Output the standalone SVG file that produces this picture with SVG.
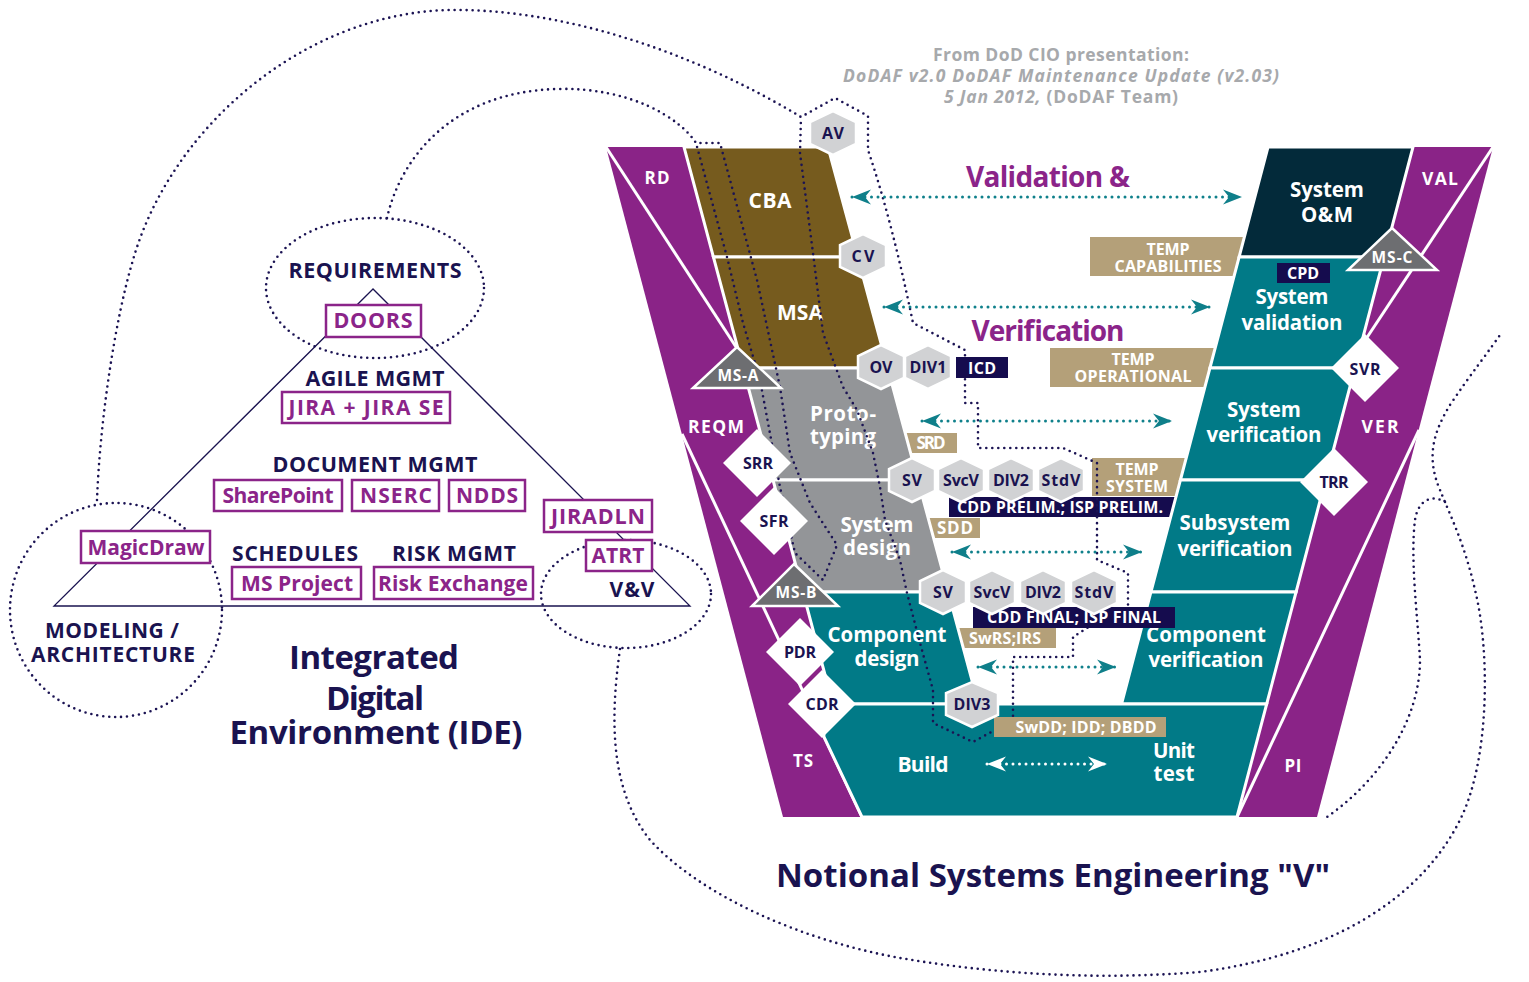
<svg xmlns="http://www.w3.org/2000/svg" width="1529" height="982" viewBox="0 0 1529 982">
<defs>
<style>
.pur{fill:#8a2387}
.wl{stroke:#fff;stroke-width:3;fill:none}
.reg{stroke:#fff;stroke-width:3;stroke-linejoin:miter}
.brown{fill:#765b1e}.gray{fill:#939598}.teal{fill:#017a87}.dark{fill:#032a3a}
.hex{fill:#d1d2d4;stroke:#fff;stroke-width:2.5}
.dia{fill:#fff}
.tri{fill:#6d6e71;stroke:#fff;stroke-width:2.5;stroke-linejoin:miter}
.tan{fill:#b4a079}
.navy{fill:#150c4e}
.dot{fill:none;stroke:#1b1353;stroke-width:2.6;stroke-dasharray:0 6;stroke-linecap:round;stroke-linejoin:round}
.tdot{stroke:#0f808b;stroke-width:3;stroke-dasharray:0 6.5;stroke-linecap:round}
.wdot{stroke:#fff;stroke-width:3;stroke-dasharray:0 6.5;stroke-linecap:round}
.box{fill:#fff;stroke:#8b2489;stroke-width:2.5}
.ide{fill:none;stroke:#1a1350;stroke-width:1.3}
.t{font-family:'Open Sans','Liberation Sans',sans-serif;font-weight:700;text-anchor:middle}
.w{fill:#fff}.n{fill:#1a1350}.p{fill:#8b2489}.g{fill:#a7a9ac}.vp{fill:#8b2489}
</style>
<polygon id="hx" points="0,-22 23,-11 23,11 0,22 -23,11 -23,-11"/>
<polygon id="dm" points="0,-34 34,0 0,34 -34,0"/>
<marker id="ah" markerUnits="userSpaceOnUse" markerWidth="22" markerHeight="18" viewBox="-20 -9 22 18" refX="0" refY="0" orient="auto-start-reverse"><path d="M0,0 L-19,-7.5 L-13,0 L-19,7.5 Z" fill="#0f7f8a"/></marker>
<marker id="aw" markerUnits="userSpaceOnUse" markerWidth="22" markerHeight="18" viewBox="-20 -9 22 18" refX="0" refY="0" orient="auto-start-reverse"><path d="M0,0 L-19,-7.5 L-13,0 L-19,7.5 Z" fill="#fff"/></marker>
</defs>
<rect width="1529" height="982" fill="#fff"/>

<g id="header">
<text class="t g" x="1061" y="61" font-size="17.5" textLength="256">From DoD CIO presentation:</text>
<text class="t g" x="1061" y="82" font-size="17.5" font-style="italic" textLength="436">DoDAF v2.0 DoDAF Maintenance Update (v2.03)</text>
<text class="t g" x="1061" y="103" font-size="17.5" textLength="234"><tspan font-style="italic">5 Jan 2012,</tspan> (DoDAF Team)</text>
</g>

<g id="left-band">
<polygon class="pur" points="606,147 684,147 863,817 783,817"/>
<line class="wl" x1="606" y1="147" x2="738" y2="350"/>
<line class="wl" x1="682" y1="434" x2="862" y2="817"/>
<text class="t w" x="657" y="184" font-size="17" textLength="25">RD</text>
<text class="t w" x="716" y="433" font-size="17.5" textLength="56">REQM</text>
<text class="t w" x="803" y="767" font-size="17" textLength="20">TS</text>
</g>
<g id="right-band">
<polygon class="pur" points="1413,147 1493,147 1317,817 1237,817"/>
<line class="wl" x1="1493" y1="147" x2="1364" y2="342"/>
<line class="wl" x1="1419" y1="430" x2="1237" y2="817"/>
<text class="t w" x="1440" y="185" font-size="17.5" textLength="36">VAL</text>
<text class="t w" x="1380" y="433" font-size="17.5" textLength="37">VER</text>
<text class="t w" x="1293" y="772" font-size="17" textLength="17">PI</text>
</g>

<g id="under-labels">
<g id="temp-capabilities"><rect class="tan" x="1090" y="237" width="160" height="39"/><text class="t w" x="1168" y="255" font-size="16" textLength="43">TEMP</text><text class="t w" x="1168" y="272" font-size="16" textLength="107">CAPABILITIES</text></g>
<g id="temp-operational"><rect class="tan" x="1050" y="348" width="170" height="39"/><text class="t w" x="1133" y="365" font-size="16" textLength="43">TEMP</text><text class="t w" x="1133" y="382" font-size="16" textLength="117">OPERATIONAL</text></g>
<g id="temp-system"><rect class="tan" x="1092" y="458" width="100" height="38"/><text class="t w" x="1137" y="475" font-size="16" textLength="43">TEMP</text><text class="t w" x="1137" y="492" font-size="16" textLength="62">SYSTEM</text></g>
<g id="srd"><rect class="tan" x="898" y="433" width="59" height="20"/><text class="t w" x="931" y="449" font-size="17" textLength="29">SRD</text></g>
<g id="sdd"><rect class="tan" x="920" y="518" width="60" height="20"/><text class="t w" x="955" y="534" font-size="17" textLength="36">SDD</text></g>
<g id="swrs"><rect class="tan" x="950" y="628" width="106" height="20"/><text class="t w" x="1005" y="644" font-size="16" textLength="72">SwRS;IRS</text></g>
<g id="cdd-prelim"><rect class="navy" x="949" y="497" width="232" height="20"/><text class="t w" x="1060" y="513" font-size="16" textLength="206">CDD PRELIM.; ISP PRELIM.</text></g>
</g>

<g id="cba"><polygon class="reg brown" points="684,147 828,147 857.7,257 713.4,257"/><text class="t w" x="770" y="208" font-size="21" textLength="43">CBA</text></g>
<g id="msa"><polygon class="reg brown" points="713.4,257 857.7,257 887.7,368 743.1,368"/><text class="t w" x="800" y="320" font-size="21" textLength="46">MSA</text></g>
<g id="prototyping"><polygon class="reg gray" points="743.1,368 887.7,368 917.9,480 773,480"/><text class="t w" x="843" y="421" font-size="20.5" textLength="66">Proto-</text><text class="t w" x="843" y="444" font-size="20.5" textLength="66">typing</text></g>
<g id="system-design"><polygon class="reg gray" points="773,480 917.9,480 948.2,592 802.9,592"/><text class="t w" x="877" y="532" font-size="20.5" textLength="73">System</text><text class="t w" x="877" y="555" font-size="20.5" textLength="68">design</text></g>
<g id="component-design"><polygon class="reg teal" points="802.9,592 948.2,592 978.4,704 832.8,704"/><text class="t w" x="887" y="642" font-size="20.5" textLength="119">Component</text><text class="t w" x="887" y="666" font-size="20.5" textLength="65">design</text></g>
<g id="system-om"><polygon class="reg dark" points="1268,147 1413,147 1384.1,257 1239.1,257"/><text class="t w" x="1327" y="197" font-size="20.5" textLength="74">System</text><text class="t w" x="1327" y="222" font-size="20.5" textLength="52">O&amp;M</text></g>
<g id="system-validation"><polygon class="reg teal" points="1239.1,257 1384.1,257 1354.9,368 1209.9,368"/><text class="t w" x="1292" y="304" font-size="20.5" textLength="73">System</text><text class="t w" x="1292" y="330" font-size="20.5" textLength="101">validation</text></g>
<g id="system-verification"><polygon class="reg teal" points="1209.9,368 1354.9,368 1325.5,480 1180.4,480"/><text class="t w" x="1264" y="417" font-size="20.5" textLength="74">System</text><text class="t w" x="1264" y="442" font-size="20.5" textLength="115">verification</text></g>
<g id="subsystem-verification"><polygon class="reg teal" points="1180.4,480 1325.5,480 1296.1,592 1150.9,592"/><text class="t w" x="1235" y="530" font-size="20.5" textLength="111">Subsystem</text><text class="t w" x="1235" y="556" font-size="20.5" textLength="115">verification</text></g>
<g id="component-verification"><polygon class="reg teal" points="1150.9,592 1296.1,592 1266.7,704 1121.5,704"/><text class="t w" x="1206" y="642" font-size="20.5" textLength="120">Component</text><text class="t w" x="1206" y="667" font-size="20.5" textLength="115">verification</text></g>
<g id="build"><polygon class="reg teal" points="822,704 1266.7,704 1237,817 862,817 824,737"/><text class="t w" x="923" y="772" font-size="21" textLength="51">Build</text><text class="t w" x="1174" y="758" font-size="20.5" textLength="42">Unit</text><text class="t w" x="1174" y="781" font-size="20.5" textLength="41">test</text></g>

<g id="connectors">
<path class="dot" d="M97,500 C100,420 115,320 133,260 C170,130 300,15 447,10 C560,8 690,50 801,117 L835,98 L868,116 L868,150 C885,200 900,260 913,323 L965,350 L965,403 L978,403 L978,448 L1063,448 L1097,463 L1097,560 L1128,573 L1128,607 L1087,628 L1073,637 L1073,657 L1013,657 L1013,720 L973,742 L933,723 L933,690 L920,643 L907,593 L900,560 L885,520 L880,487 L873,453 L857,410 L843,387 L823,333 L813,253 L800,153 L801,117"/>
<path class="dot" d="M387,218 C400,160 450,92 557,89 C630,87 680,118 696,143 L720,143 L757,280 L780,387 L790,453 L810,503 L837,545 L823,580 L795,553 L780,487 L760,380 L743,323 L727,257 L696,143"/>
<path class="dot" d="M620,649 C610,720 610,790 650,840 C700,895 800,940 900,958 C1000,975 1100,980 1200,972 C1330,955 1420,900 1460,820 C1490,760 1490,650 1475,590 C1465,545 1450,515 1440,490 C1425,455 1435,430 1450,405 C1470,375 1490,350 1502,332"/>
<path class="dot" d="M1445,502 C1432,494 1418,500 1415,520 C1410,560 1418,620 1420,660 C1420,720 1380,780 1327,817"/>
<line class="tdot" x1="852" y1="197" x2="1242" y2="197" marker-start="url(#ah)" marker-end="url(#ah)"/>
<line class="tdot" x1="884" y1="307" x2="1210" y2="307" marker-start="url(#ah)" marker-end="url(#ah)"/>
<line class="tdot" x1="922" y1="421" x2="1172" y2="421" marker-start="url(#ah)" marker-end="url(#ah)"/>
<line class="tdot" x1="952" y1="552" x2="1142" y2="552" marker-start="url(#ah)" marker-end="url(#ah)"/>
<line class="tdot" x1="978" y1="667" x2="1116" y2="667" marker-start="url(#ah)" marker-end="url(#ah)"/>
<line class="wdot" x1="987" y1="764" x2="1107" y2="764" marker-start="url(#aw)" marker-end="url(#aw)"/>
</g>

<g id="over-labels">
<g id="icd"><rect class="navy" x="956" y="357" width="52" height="21"/><text class="t w" x="982" y="374" font-size="16" textLength="28">ICD</text></g>
<g id="cdd-final"><rect class="navy" x="973" y="607" width="202" height="21"/><text class="t w" x="1074" y="623" font-size="16" textLength="174">CDD FINAL; ISP FINAL</text></g>
<g id="cpd"><rect class="navy" x="1277" y="263" width="53" height="20"/><text class="t w" x="1303" y="279" font-size="16" textLength="32">CPD</text></g>
<g id="swdd"><rect class="tan" x="994" y="717" width="172" height="20"/><text class="t w" x="1086" y="733" font-size="16" textLength="141">SwDD; IDD; DBDD</text></g>
</g>

<g id="hexes">
<g id="hex-av"><use href="#hx" class="hex" x="833" y="133"/><text class="t n" x="833" y="139" font-size="16" textLength="22">AV</text></g>
<g id="hex-cv"><use href="#hx" class="hex" x="863" y="256"/><text class="t n" x="863" y="262" font-size="16" textLength="23">CV</text></g>
<g id="hex-ov"><use href="#hx" class="hex" x="881" y="367"/><text class="t n" x="881" y="373" font-size="16" textLength="23">OV</text></g>
<g id="hex-div1"><use href="#hx" class="hex" x="928" y="367"/><text class="t n" x="928" y="373" font-size="16" textLength="37">DIV1</text></g>
<g id="hex-sv1"><use href="#hx" class="hex" x="912" y="480"/><text class="t n" x="912" y="486" font-size="16" textLength="20">SV</text></g>
<g id="hex-svcv1"><use href="#hx" class="hex" x="961" y="480"/><text class="t n" x="961" y="486" font-size="16" textLength="36">SvcV</text></g>
<g id="hex-div2a"><use href="#hx" class="hex" x="1011" y="480"/><text class="t n" x="1011" y="486" font-size="16" textLength="36">DIV2</text></g>
<g id="hex-stdv1"><use href="#hx" class="hex" x="1061" y="480"/><text class="t n" x="1061" y="486" font-size="16" textLength="39">StdV</text></g>
<g id="hex-sv2"><use href="#hx" class="hex" x="943" y="592"/><text class="t n" x="943" y="598" font-size="16" textLength="20">SV</text></g>
<g id="hex-svcv2"><use href="#hx" class="hex" x="992" y="592"/><text class="t n" x="992" y="598" font-size="16" textLength="37">SvcV</text></g>
<g id="hex-div2b"><use href="#hx" class="hex" x="1043" y="592"/><text class="t n" x="1043" y="598" font-size="16" textLength="36">DIV2</text></g>
<g id="hex-stdv2"><use href="#hx" class="hex" x="1094" y="592"/><text class="t n" x="1094" y="598" font-size="16" textLength="39">StdV</text></g>
<g id="hex-div3"><polygon class="hex" points="972,682 998,693 998,715 972,727 946,715 946,693"/><text class="t n" x="972" y="710" font-size="16" textLength="37">DIV3</text></g>
</g>

<g id="reviews">
<g id="srr"><use href="#dm" class="dia" x="757" y="463"/><text class="t n" x="758" y="469" font-size="16" textLength="30">SRR</text></g>
<g id="sfr"><use href="#dm" class="dia" x="774" y="521"/><text class="t n" x="774" y="527" font-size="16" textLength="29">SFR</text></g>
<g id="pdr"><use href="#dm" class="dia" x="800" y="652"/><text class="t n" x="800" y="658" font-size="16" textLength="32">PDR</text></g>
<g id="cdr"><use href="#dm" class="dia" x="822" y="704"/><text class="t n" x="822" y="710" font-size="16" textLength="33">CDR</text></g>
<g id="svr"><use href="#dm" class="dia" x="1365" y="368"/><text class="t n" x="1365" y="375" font-size="16" textLength="31">SVR</text></g>
<g id="trr"><use href="#dm" class="dia" x="1334" y="482"/><text class="t n" x="1334" y="488" font-size="16" textLength="29">TRR</text></g>
</g>

<g id="milestones">
<g id="ms-a"><polygon class="tri" points="737,347 781,388 693,388"/><text class="t w" x="738" y="381" font-size="15.5" textLength="41">MS-A</text></g>
<g id="ms-b"><polygon class="tri" points="794,564 838,606 752,606"/><text class="t w" x="796" y="598" font-size="15.5" textLength="41">MS-B</text></g>
<g id="ms-c"><polygon class="tri" points="1392,228 1437,270 1348,270"/><text class="t w" x="1392" y="263" font-size="15.5" textLength="41">MS-C</text></g>
</g>

<g id="vv-titles">
<text class="t vp" x="1048" y="187" font-size="28" textLength="164">Validation &amp;</text>
<text class="t vp" x="1048" y="341" font-size="28" textLength="153">Verification</text>
<text class="t n" x="1053" y="887" font-size="33" textLength="554">Notional Systems Engineering "V"</text>
</g>

<g id="ide">
<ellipse class="dot" cx="375" cy="288" rx="109" ry="70"/>
<ellipse class="dot" cx="116" cy="610" rx="106" ry="107"/>
<ellipse class="dot" cx="626" cy="594" rx="85" ry="54"/>
<polygon class="ide" points="373,289 54,606 690,606"/>
<text class="t n" x="375" y="278" font-size="21.5" textLength="173">REQUIREMENTS</text>
<g id="doors"><rect class="box" x="326" y="305" width="95" height="32"/><text class="t p" x="373" y="328" font-size="21.5" textLength="79">DOORS</text></g>
<text class="t n" x="375" y="386" font-size="21.5" textLength="139">AGILE MGMT</text>
<g id="jira"><rect class="box" x="282" y="392" width="168" height="31"/><text class="t p" x="366" y="415" font-size="21" textLength="155">JIRA + JIRA SE</text></g>
<text class="t n" x="375" y="472" font-size="21.5" textLength="205">DOCUMENT MGMT</text>
<g id="sharepoint"><rect class="box" x="214" y="480" width="128" height="31"/><text class="t p" x="278" y="503" font-size="21" textLength="111">SharePoint</text></g>
<g id="nserc"><rect class="box" x="352" y="480" width="87" height="31"/><text class="t p" x="396" y="503" font-size="21" textLength="72">NSERC</text></g>
<g id="ndds"><rect class="box" x="449" y="480" width="76" height="31"/><text class="t p" x="487" y="503" font-size="21" textLength="62">NDDS</text></g>
<g id="jiradln"><rect class="box" x="544" y="500" width="108" height="32"/><text class="t p" x="598" y="524" font-size="21.5" textLength="94">JIRADLN</text></g>
<g id="atrt"><rect class="box" x="586" y="540" width="66" height="31"/><text class="t p" x="618" y="563" font-size="21" textLength="53">ATRT</text></g>
<g id="magicdraw"><rect class="box" x="81" y="531" width="129" height="32"/><text class="t p" x="146" y="555" font-size="21" textLength="117">MagicDraw</text></g>
<text class="t n" x="295" y="561" font-size="21" textLength="126">SCHEDULES</text>
<text class="t n" x="454" y="561" font-size="21" textLength="124">RISK MGMT</text>
<g id="msproject"><rect class="box" x="232" y="567" width="129" height="32"/><text class="t p" x="297" y="591" font-size="21" textLength="112">MS Project</text></g>
<g id="riskexchange"><rect class="box" x="374" y="567" width="159" height="32"/><text class="t p" x="453" y="591" font-size="21" textLength="150">Risk Exchange</text></g>
<text class="t n" x="632" y="597" font-size="21" textLength="45">V&amp;V</text>
<text class="t n" x="112" y="638" font-size="21" textLength="134">MODELING /</text>
<text class="t n" x="113" y="662" font-size="21" textLength="164">ARCHITECTURE</text>
<text class="t n" x="374" y="669" font-size="33" textLength="170">Integrated</text>
<text class="t n" x="375" y="710" font-size="33" textLength="98">Digital</text>
<text class="t n" x="376" y="744" font-size="33" textLength="293">Environment (IDE)</text>
</g>
</svg>
